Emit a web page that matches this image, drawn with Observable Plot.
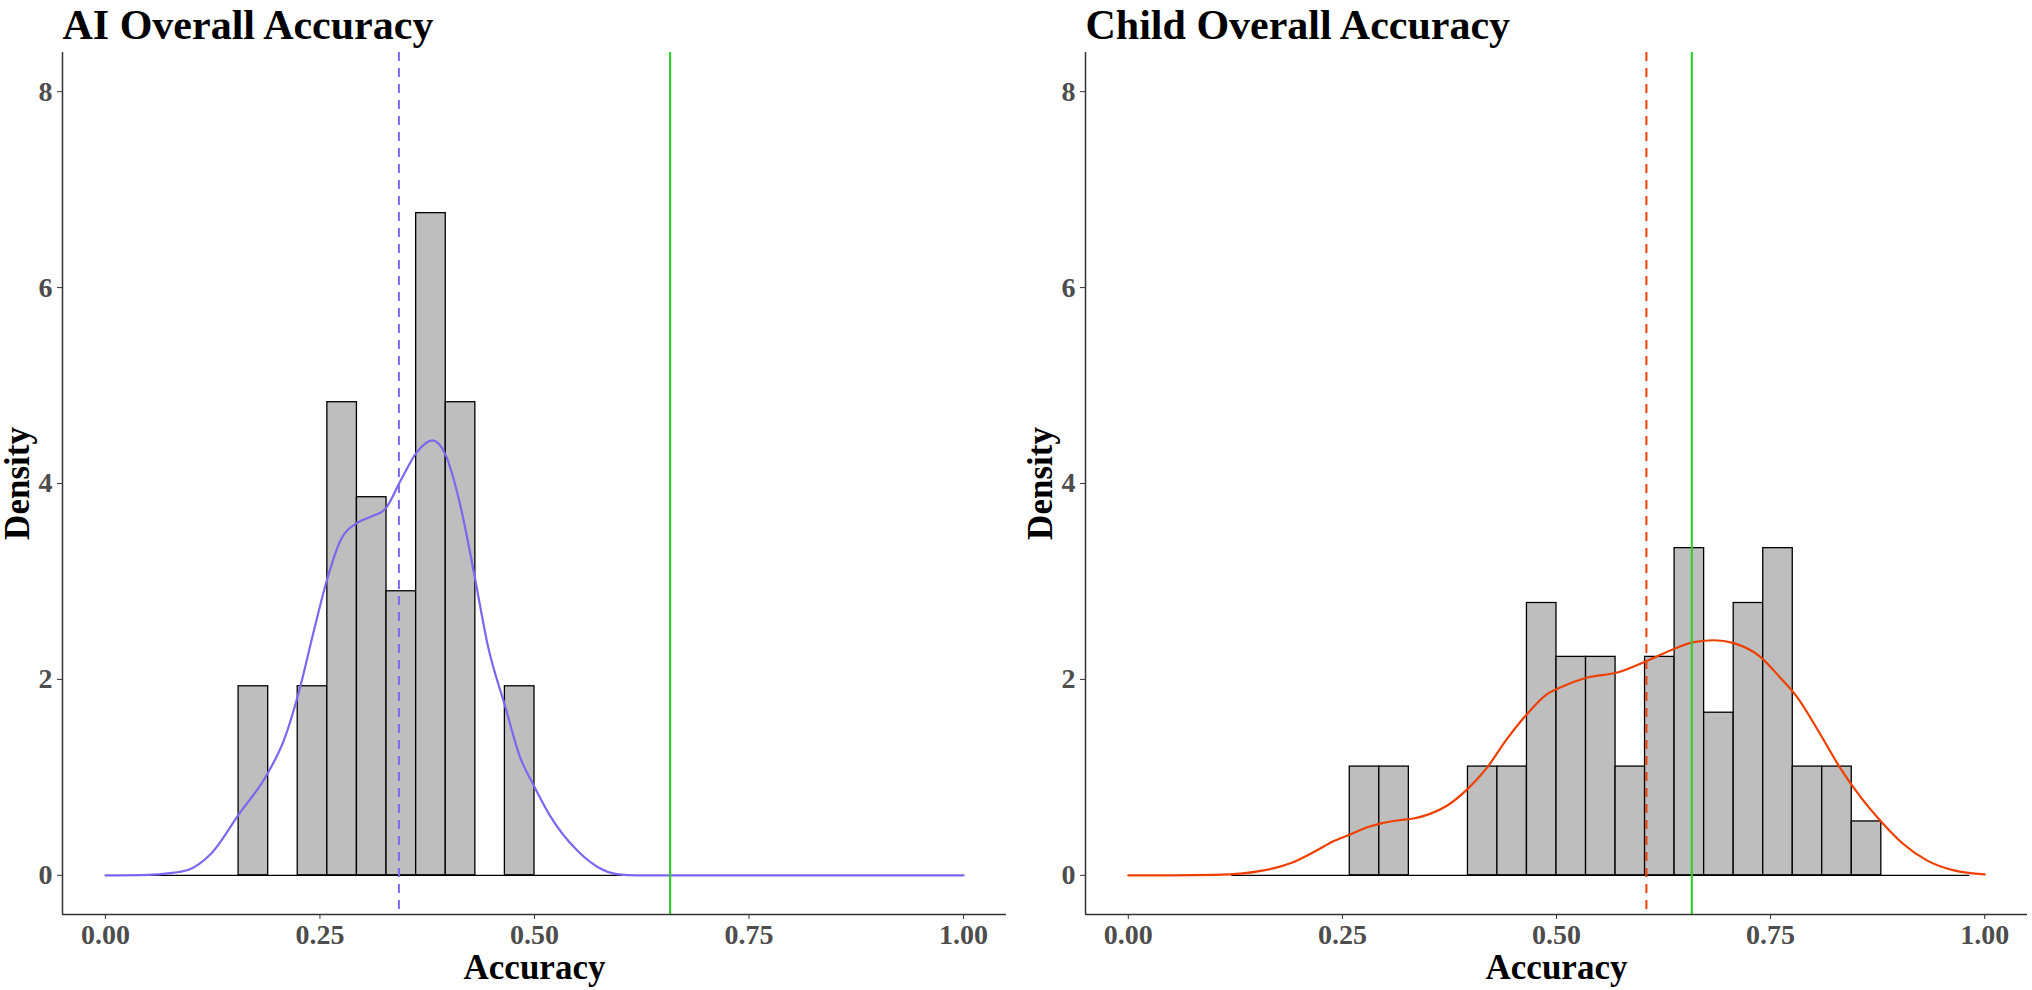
<!DOCTYPE html>
<html>
<head>
<meta charset="utf-8">
<script src="https://cdn.jsdelivr.net/npm/d3@7"></script>
<script src="https://cdn.jsdelivr.net/npm/@observablehq/plot@0.6"></script>
<style>
  html, body { margin: 0; padding: 0; background: #ffffff; }
  #wrap { display: flex; flex-direction: row; width: 2032px; height: 990px; }
</style>
</head>
<body>
<div id="wrap"></div>
<script>
// ---- scales / ticks ----
const xDomain = [-0.05, 1.05];
const yDomain = [-0.4, 8.4];
const xTicks = [0, 0.25, 0.5, 0.75, 1];
const yTicks = [0, 2, 4, 6, 8];
const BIN_WIDTH = 0.03448;

// ---- AI panel ----
const aiTitle = "AI Overall Accuracy";
const aiBinStart = [0.0517, 0.0862, 0.1207, 0.1552, 0.1897, 0.2241, 0.2586, 0.2931,
                    0.3276, 0.3621, 0.3966, 0.4310, 0.4655, 0.5000, 0.5345, 0.5690];
const aiBinDensity = [0, 0, 0, 1.93, 0, 1.93, 4.83, 3.86,
                      2.90, 6.76, 4.83, 0, 1.93, 0, 0, 0];
const aiDensX = [0.00, 0.05, 0.073, 0.096, 0.123, 0.156, 0.189, 0.208, 0.226, 0.243, 0.259,
                 0.274, 0.294, 0.309, 0.326, 0.344, 0.363, 0.381, 0.396, 0.414, 0.429,
                 0.446, 0.466, 0.483, 0.499, 0.518, 0.549, 0.573, 0.596, 0.62, 0.70, 1.00];
const aiDensY = [0, 0.005, 0.02, 0.054, 0.22, 0.63, 1.04, 1.38, 1.89, 2.50, 3.04,
                 3.42, 3.60, 3.66, 3.74, 4.03, 4.32, 4.44, 4.30, 3.76, 3.11,
                 2.33, 1.72, 1.21, 0.92, 0.61, 0.26, 0.088, 0.013, 0, 0, 0];
const aiMean = 0.342;
const aiReference = 0.658;

// ---- Child panel ----
const childTitle = "Child Overall Accuracy";
const childBinStart = [0.1207, 0.1552, 0.1897, 0.2241, 0.2586, 0.2931, 0.3276, 0.3621,
                       0.3966, 0.4310, 0.4655, 0.5000, 0.5345, 0.5690, 0.6034, 0.6379,
                       0.6724, 0.7069, 0.7414, 0.7759, 0.8103, 0.8448, 0.8793, 0.9138, 0.9483];
const childBinDensity = [0, 0, 0, 0, 1.11, 1.11, 0, 0,
                         1.11, 1.11, 2.78, 2.23, 2.23, 1.11, 2.23, 3.34,
                         1.66, 2.78, 3.34, 1.11, 1.11, 0.55, 0, 0, 0];
const childDensX = [0.00, 0.05, 0.10, 0.131, 0.158, 0.190, 0.217, 0.240, 0.260, 0.279, 0.295,
                    0.314, 0.333, 0.353, 0.372, 0.396, 0.419, 0.442, 0.466, 0.489, 0.505,
                    0.536, 0.571, 0.606, 0.637, 0.660, 0.684, 0.707, 0.738, 0.761, 0.781,
                    0.808, 0.831, 0.855, 0.880, 0.905, 0.933, 0.964, 1.00];
const childDensY = [0, 0, 0.005, 0.017, 0.05, 0.125, 0.24, 0.35, 0.42, 0.49, 0.53,
                    0.56, 0.58, 0.63, 0.71, 0.88, 1.10, 1.39, 1.65, 1.85, 1.92,
                    2.02, 2.07, 2.19, 2.31, 2.38, 2.40, 2.37, 2.23, 2.02, 1.82,
                    1.44, 1.10, 0.80, 0.54, 0.32, 0.15, 0.05, 0.01];
const childMean = 0.605;
const childReference = 0.658;

const xLabel = "Accuracy";
const yLabel = "Density";

function panel({title, binStart, binDensity, densX, densY, color, mean, reference, marginLeft, marginRight}) {
  const bins = binStart.map((x1, i) => ({x1, x2: x1 + BIN_WIDTH, d: binDensity[i]}));
  const curve = densX.map((x, i) => ({x, y: densY[i]}));
  const tickText = {fontSize: 28, fontWeight: "bold", fill: "#4D4D4D", stroke: "#333333", tickSize: 5, tickPadding: 5, label: null};
  return Plot.plot({
    width: 1016,
    height: 990,
    marginTop: 52,
    marginBottom: 76,
    marginLeft,
    marginRight,
    x: {domain: xDomain, label: null},
    y: {domain: yDomain, label: null},
    style: {fontFamily: "'Liberation Serif', 'Times New Roman', serif", background: "#ffffff", overflow: "visible"},
    marks: [
      Plot.rectY(bins.filter(b => b.d > 0), {x1: "x1", x2: "x2", y: "d", fill: "#BEBEBE", stroke: "#000000", strokeWidth: 1.3, inset: 0}),
      Plot.ruleY([0], {x1: binStart[0], x2: binStart[binStart.length - 1] + BIN_WIDTH, stroke: "#000000", strokeWidth: 1.3}),
      Plot.line(curve, {x: "x", y: "y", stroke: color, strokeWidth: 2.2, curve: "monotone-x"}),
      Plot.ruleX([mean], {stroke: color, strokeWidth: 2, strokeDasharray: "9,7"}),
      Plot.ruleX([reference], {stroke: "#33CC33", strokeWidth: 2.2}),
      Plot.ruleX([xDomain[0]], {stroke: "#333333", strokeWidth: 1.5}),
      Plot.ruleY([yDomain[0]], {stroke: "#333333", strokeWidth: 1.5}),
      Plot.axisX({...tickText, ticks: xTicks, tickFormat: d3.format(".2f")}),
      Plot.axisY({...tickText, ticks: yTicks, tickFormat: d3.format("d")}),
      Plot.text([title], {text: d => d, frameAnchor: "top-left", textAnchor: "start", lineAnchor: "bottom", dy: -14, fontSize: 42, fontWeight: "bold", fill: "#000000"}),
      Plot.text([xLabel], {text: d => d, frameAnchor: "bottom", textAnchor: "middle", lineAnchor: "bottom", dy: 64, fontSize: 35, fontWeight: "bold", fill: "#000000"}),
      Plot.text([yLabel], {text: d => d, frameAnchor: "left", textAnchor: "middle", lineAnchor: "bottom", rotate: -90, dx: -34, fontSize: 35, fontWeight: "bold", fill: "#000000"})
    ]
  });
}

const wrap = document.getElementById("wrap");
wrap.append(panel({
  title: aiTitle, binStart: aiBinStart, binDensity: aiBinDensity,
  densX: aiDensX, densY: aiDensY, color: "#7B68EE",
  mean: aiMean, reference: aiReference, marginLeft: 62, marginRight: 10
}));
wrap.append(panel({
  title: childTitle, binStart: childBinStart, binDensity: childBinDensity,
  densX: childDensX, densY: childDensY, color: "#EE4000",
  mean: childMean, reference: childReference, marginLeft: 69, marginRight: 5
}));
</script>
</body>
</html>
